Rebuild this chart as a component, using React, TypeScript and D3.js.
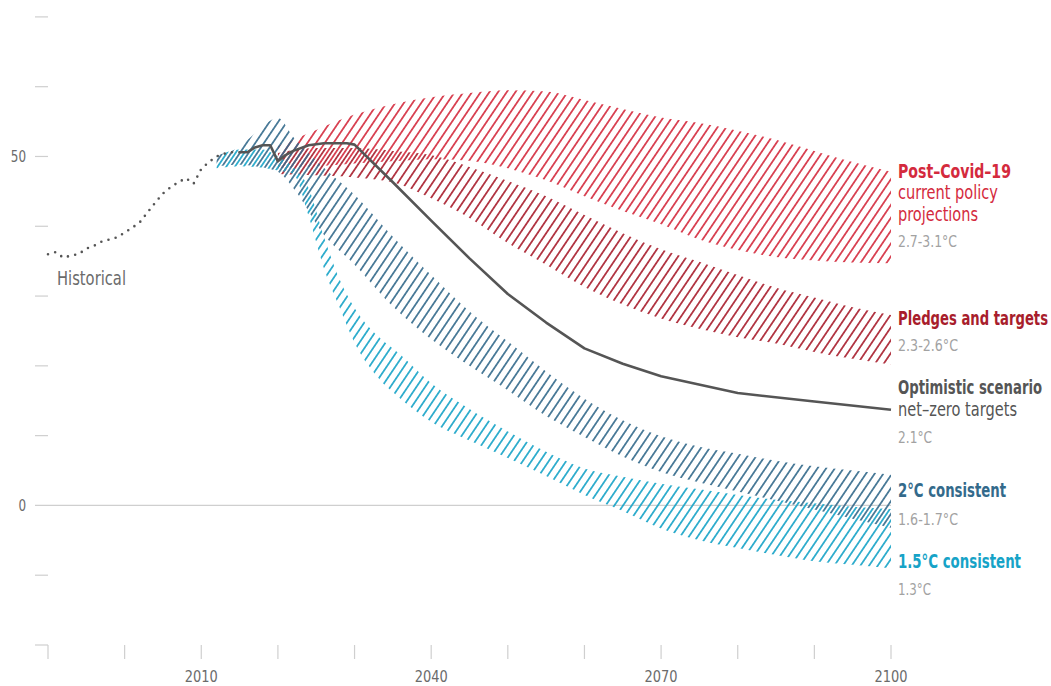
import React from "react";
import * as d3 from "d3";

const W = 1051;
const H = 686;

// ---------- data ----------
const histYears = [1990, 1991, 1992, 1993, 1994, 1995, 1996, 1997, 1998, 1999, 2000, 2001, 2002, 2003, 2004, 2005, 2006, 2007, 2008, 2009, 2010, 2011, 2012, 2013, 2014, 2015];
const histValues = [36.0, 36.3, 35.5, 35.8, 36.0, 36.8, 37.2, 37.8, 38.1, 38.4, 39.1, 39.8, 40.6, 42.0, 43.4, 44.7, 45.6, 46.3, 46.9, 46.1, 48.2, 49.2, 50.0, 50.4, 50.6, 50.6];

const optYears = [2015, 2016, 2017, 2018, 2019, 2020, 2021, 2022, 2024, 2026, 2029, 2030, 2035, 2040, 2045, 2050, 2055, 2060, 2065, 2070, 2080, 2090, 2100];
const optValues = [50.6, 50.6, 51.3, 51.6, 51.6, 49.3, 50.2, 50.8, 51.6, 51.9, 51.9, 51.7, 46.3, 40.8, 35.4, 30.3, 26.2, 22.5, 20.3, 18.5, 16.1, 14.9, 13.7];

const policyYears = [2020, 2025, 2030, 2035, 2040, 2045, 2050, 2055, 2060, 2065, 2070, 2075, 2080, 2085, 2090, 2095, 2100];
const policyHigh = [51.5, 53.8, 56.0, 57.5, 58.5, 59.1, 59.5, 59.3, 58.1, 56.8, 55.6, 54.8, 53.7, 52.4, 50.8, 49.2, 47.8];
const policyLow = [48.3, 48.6, 49.0, 49.3, 49.6, 49.4, 48.3, 46.6, 44.3, 42.2, 40.3, 38.1, 36.6, 35.6, 35.1, 34.8, 34.7];

const pledgeYears = [2020, 2025, 2030, 2035, 2040, 2045, 2050, 2055, 2060, 2065, 2070, 2075, 2080, 2085, 2090, 2095, 2100];
const pledgeHigh = [50.5, 51.2, 51.2, 50.8, 50.2, 48.5, 46.5, 44.3, 41.6, 39.0, 36.7, 34.9, 33.0, 31.2, 29.8, 28.4, 27.3];
const pledgeLow = [47.5, 47.3, 47.0, 46.3, 44.0, 41.2, 37.6, 34.5, 31.3, 28.8, 26.8, 25.3, 24.1, 23.2, 22.0, 21.0, 20.2];

const twoYears = [2012, 2015, 2017, 2020, 2022, 2026, 2030, 2035, 2040, 2045, 2050, 2055, 2060, 2065, 2070, 2075, 2080, 2085, 2090, 2095, 2100];
const twoHigh = [50.2, 51.4, 53.3, 55.5, 52.8, 48.4, 44.5, 38.5, 33.0, 27.8, 23.5, 19.2, 15.3, 12.2, 9.9, 8.4, 7.4, 6.4, 5.6, 5.0, 4.4];
const twoLow = [48.6, 48.8, 48.6, 47.8, 45.5, 38.8, 34.5, 28.5, 23.8, 20.0, 16.5, 12.8, 9.8, 7.0, 4.8, 3.3, 2.0, 0.7, -0.6, -1.9, -3.2];

const oneFiveYears = [2012, 2015, 2018, 2020, 2022, 2024, 2026, 2028, 2030, 2033, 2036, 2040, 2045, 2050, 2055, 2060, 2065, 2070, 2075, 2080, 2085, 2090, 2095, 2100];
const oneFiveHigh = [50.0, 51.0, 51.0, 50.0, 48.5, 45.5, 38.5, 32.5, 28.3, 24.3, 21.6, 17.5, 13.8, 10.6, 7.7, 5.3, 4.1, 3.1, 2.3, 1.5, 0.8, 0.3, -0.2, -0.5];
const oneFiveLow = [48.3, 48.6, 48.4, 48.0, 47.5, 41.5, 34.0, 28.5, 23.3, 18.4, 15.3, 12.0, 9.3, 6.8, 4.2, 1.5, -0.8, -3.3, -5.0, -6.1, -7.1, -8.0, -8.5, -9.0];

const yTickValues = [70, 60, 50, 40, 30, 20, 10, 0, -10, -20];
const yTickLabels = ["50", "0"];
const xTickValues = [1990, 2000, 2010, 2020, 2030, 2040, 2050, 2060, 2070, 2080, 2090, 2100];
const xTickLabels = ["2010", "2040", "2070", "2100"];

// ---------- styles ----------
const FONT = "'DejaVu Sans Condensed', 'Liberation Sans Narrow', sans-serif";
const C_POLICY = "#d42a3d";
const C_PLEDGE = "#a81d2c";
const C_TWO = "#336a8b";
const C_ONEFIVE = "#16a3c7";
const C_LINE = "#555555";
const C_TEMP = "#a2a2a2";
const C_AXIS = "#cfcfcf";
const C_AXTEXT = "#6b6b6b";

const HS = 7.2; // hatch spacing
const ANG = 34;

const x = d3.scaleLinear().domain([1990, 2100]).range([48, 891]);
const y = d3.scaleLinear().domain([-20, 70]).range([645, 16.9]);

function bandPath(years: number[], hi: number[], lo: number[]) {
  const data = years.map((yr, i) => ({ yr, hi: hi[i], lo: lo[i] }));
  const area = d3
    .area<{ yr: number; hi: number; lo: number }>()
    .x((d) => x(d.yr))
    .y0((d) => y(d.lo))
    .y1((d) => y(d.hi))
    .curve(d3.curveMonotoneX);
  return area(data) || "";
}

function linePath(years: number[], vals: number[], curve = d3.curveLinear) {
  const data = years.map((yr, i) => [yr, vals[i]] as [number, number]);
  const line = d3
    .line<[number, number]>()
    .x((d) => x(d[0]))
    .y((d) => y(d[1]))
    .curve(curve);
  return line(data) || "";
}

function Hatch({ id, color, offset }: { id: string; color: string; offset: number }) {
  return (
    <pattern
      id={id}
      patternUnits="userSpaceOnUse"
      width={HS}
      height={HS}
      patternTransform={`rotate(${ANG}) translate(${offset},0)`}
    >
      <line x1={HS / 2} y1={-1} x2={HS / 2} y2={HS + 1} stroke={color} strokeWidth={1.6} />
    </pattern>
  );
}

function Label({ x: lx, y: ly, w, size, bold, color, children }: any) {
  return (
    <text
      x={lx}
      y={ly}
      fontSize={size}
      fontWeight={bold ? "bold" : "normal"}
      fill={color}
      textLength={w}
      lengthAdjust="spacingAndGlyphs"
    >
      {children}
    </text>
  );
}

export default function App() {
  const lx = 898;
  return (
    <div style={{ position: "absolute", left: 0, top: 0 }}>
      <svg width={W} height={H} style={{ display: "block", background: "#fff" }} fontFamily={FONT}>
        <defs>
          <Hatch id="h-policy" color={C_POLICY} offset={0} />
          <Hatch id="h-pledge" color={C_PLEDGE} offset={HS / 2} />
          <Hatch id="h-two" color={C_TWO} offset={0} />
          <Hatch id="h-onefive" color={C_ONEFIVE} offset={HS / 2} />
        </defs>

        {/* y ticks */}
        {yTickValues.map((v) => (
          <line key={"yt" + v} x1={35} x2={v === 0 ? x(2100) : 48} y1={y(v)} y2={y(v)} stroke={C_AXIS} strokeWidth={1.2} />
        ))}
        {yTickLabels.map((t) => (
          <text key={"yl" + t} x={26} y={y(+t)} dy="0.36em" textAnchor="end" fontSize={16} fill={C_AXTEXT}
            textLength={t.length * 7.6} lengthAdjust="spacingAndGlyphs">
            {t}
          </text>
        ))}
        {/* x ticks */}
        {xTickValues.map((v) => (
          <line key={"xt" + v} x1={x(v)} x2={x(v)} y1={y(-20)} y2={y(-20) + 14} stroke={C_AXIS} strokeWidth={1.2} />
        ))}
        {xTickLabels.map((t) => (
          <text key={"xl" + t} x={x(+t) - 16.5} y={682} fontSize={16} fill={C_AXTEXT}
            textLength={33} lengthAdjust="spacingAndGlyphs">
            {t}
          </text>
        ))}

        {/* bands */}
        <path d={bandPath(policyYears, policyHigh, policyLow)} fill="url(#h-policy)" />
        <path d={bandPath(pledgeYears, pledgeHigh, pledgeLow)} fill="url(#h-pledge)" />
        <path d={bandPath(twoYears, twoHigh, twoLow)} fill="url(#h-two)" />
        <path d={bandPath(oneFiveYears, oneFiveHigh, oneFiveLow)} fill="url(#h-onefive)" />

        {/* historical dotted */}
        <path
          d={linePath(histYears, histValues)}
          fill="none"
          stroke={C_LINE}
          strokeWidth={2.6}
          strokeLinecap="round"
          strokeDasharray="0 7.4"
        />
        {/* optimistic line */}
        <path d={linePath(optYears, optValues)} fill="none" stroke={C_LINE} strokeWidth={2.6} strokeLinejoin="round" />

        <Label x={57} y={285} w={69} size={19} color={C_AXTEXT}>Historical</Label>

        {/* labels */}
        <Label x={lx} y={178} w={113} size={19} bold color={C_POLICY}>Post–Covid–19</Label>
        <Label x={lx} y={199} w={100} size={19} color={C_POLICY}>current policy</Label>
        <Label x={lx} y={221} w={80} size={19} color={C_POLICY}>projections</Label>
        <Label x={lx} y={247} w={59} size={15} color={C_TEMP}>2.7-3.1°C</Label>

        <Label x={lx} y={325} w={150} size={19} bold color={C_PLEDGE}>Pledges and targets</Label>
        <Label x={lx} y={351} w={60} size={15} color={C_TEMP}>2.3-2.6°C</Label>

        <Label x={lx} y={394} w={144} size={19} bold color={C_LINE}>Optimistic scenario</Label>
        <Label x={lx} y={416} w={119} size={19} color={C_LINE}>net–zero targets</Label>
        <Label x={lx} y={443} w={34} size={15} color={C_TEMP}>2.1°C</Label>

        <Label x={lx} y={497} w={108} size={19} bold color={C_TWO}>2°C consistent</Label>
        <Label x={lx} y={525} w={60} size={15} color={C_TEMP}>1.6-1.7°C</Label>

        <Label x={lx} y={568} w={123} size={19} bold color={C_ONEFIVE}>1.5°C consistent</Label>
        <Label x={lx} y={595} w={33} size={15} color={C_TEMP}>1.3°C</Label>
      </svg>
    </div>
  );
}
